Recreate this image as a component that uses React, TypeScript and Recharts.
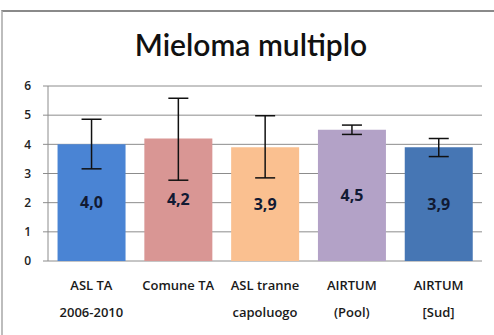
import { BarChart, Bar, XAxis, YAxis, CartesianGrid, ErrorBar, LabelList, Cell } from 'recharts'

const categories = [
    ['ASL TA', '2006-2010'],
    ['Comune TA'],
    ['ASL tranne', 'capoluogo'],
    ['AIRTUM', '(Pool)'],
    ['AIRTUM', '[Sud]'],
]
const values = [4.0, 4.2, 3.9, 4.5, 3.9]
const lower = [3.16, 2.77, 2.85, 4.34, 3.58]
const upper = [4.86, 5.58, 4.98, 4.66, 4.2]
const yTicks = [0, 1, 2, 3, 4, 5, 6]

const COLORS = ['#4a84d4', '#d99694', '#fac090', '#b3a2c7', '#4676b4']

const data = categories.map((lines, i) => ({
    name: lines.join(' '),
    value: values[i],
    err: [values[i] - lower[i], upper[i] - values[i]],
}))

function CategoryTick({ x, y, payload, index }: any) {
    const lines = categories[index] ?? [payload.value]
    return (
        <text x={x} y={y + 21} textAnchor="middle" fill="#1a1a1a" fontSize={13} fontWeight={600} fontFamily="'Open Sans', sans-serif">
            {lines.map((l: string, i: number) => (
                <tspan key={i} x={x} dy={i === 0 ? 0 : 27}>{l}</tspan>
            ))}
        </text>
    )
}

export default function App() {
    return (
        <div style={{ position: 'absolute', left: 0, top: 0, width: 494, height: 335, background: '#fff', fontFamily: "'Open Sans', sans-serif" }}>
            <div style={{ position: 'absolute', left: 1, top: 10, right: 0, bottom: 0, borderTop: '2px solid #8a8a8a', borderLeft: '2px solid #bdbdbd' }} />
            <div style={{ position: 'absolute', left: 0, top: 26, width: 502, textAlign: 'center', fontSize: 30, fontWeight: 600, color: '#111', fontFamily: 'Lato, sans-serif' }}>
                Mieloma multiplo
            </div>
            <BarChart
                width={494}
                height={335}
                data={data}
                margin={{ top: 86, right: 12, bottom: 24, left: 0 }}
                barCategoryGap="11%"
                style={{ position: 'absolute', left: 0, top: 0 }}
            >
                <CartesianGrid vertical={false} stroke="#8c8c8c" />
                <XAxis
                    dataKey="name"
                    height={50}
                    tick={<CategoryTick />}
                    tickLine={false}
                    axisLine={false}
                    interval={0}
                />
                <YAxis
                    domain={[0, 6]}
                    ticks={yTicks}
                    width={48}
                    tick={{ fill: '#222', fontSize: 12, fontWeight: 600, dx: -10 }}
                    tickSize={5}
                    axisLine={{ stroke: '#8c8c8c' }}
                    tickLine={{ stroke: '#8c8c8c' }}
                    interval={0}
                />
                <Bar dataKey="value" isAnimationActive={false}>
                    {data.map((entry, index) => (
                        <Cell key={`cell-${index}`} fill={COLORS[index]} />
                    ))}
                    <LabelList
                        dataKey="value"
                        position="center"
                        formatter={(v: any) => Number(v).toFixed(1).replace('.', ',')}
                        style={{ fill: '#111a33', fontSize: 16, fontWeight: 700 }}
                    />
                    <ErrorBar dataKey="err" width={10} stroke="#111" strokeWidth={1.5} />
                </Bar>
            </BarChart>
        </div>
    )
}
